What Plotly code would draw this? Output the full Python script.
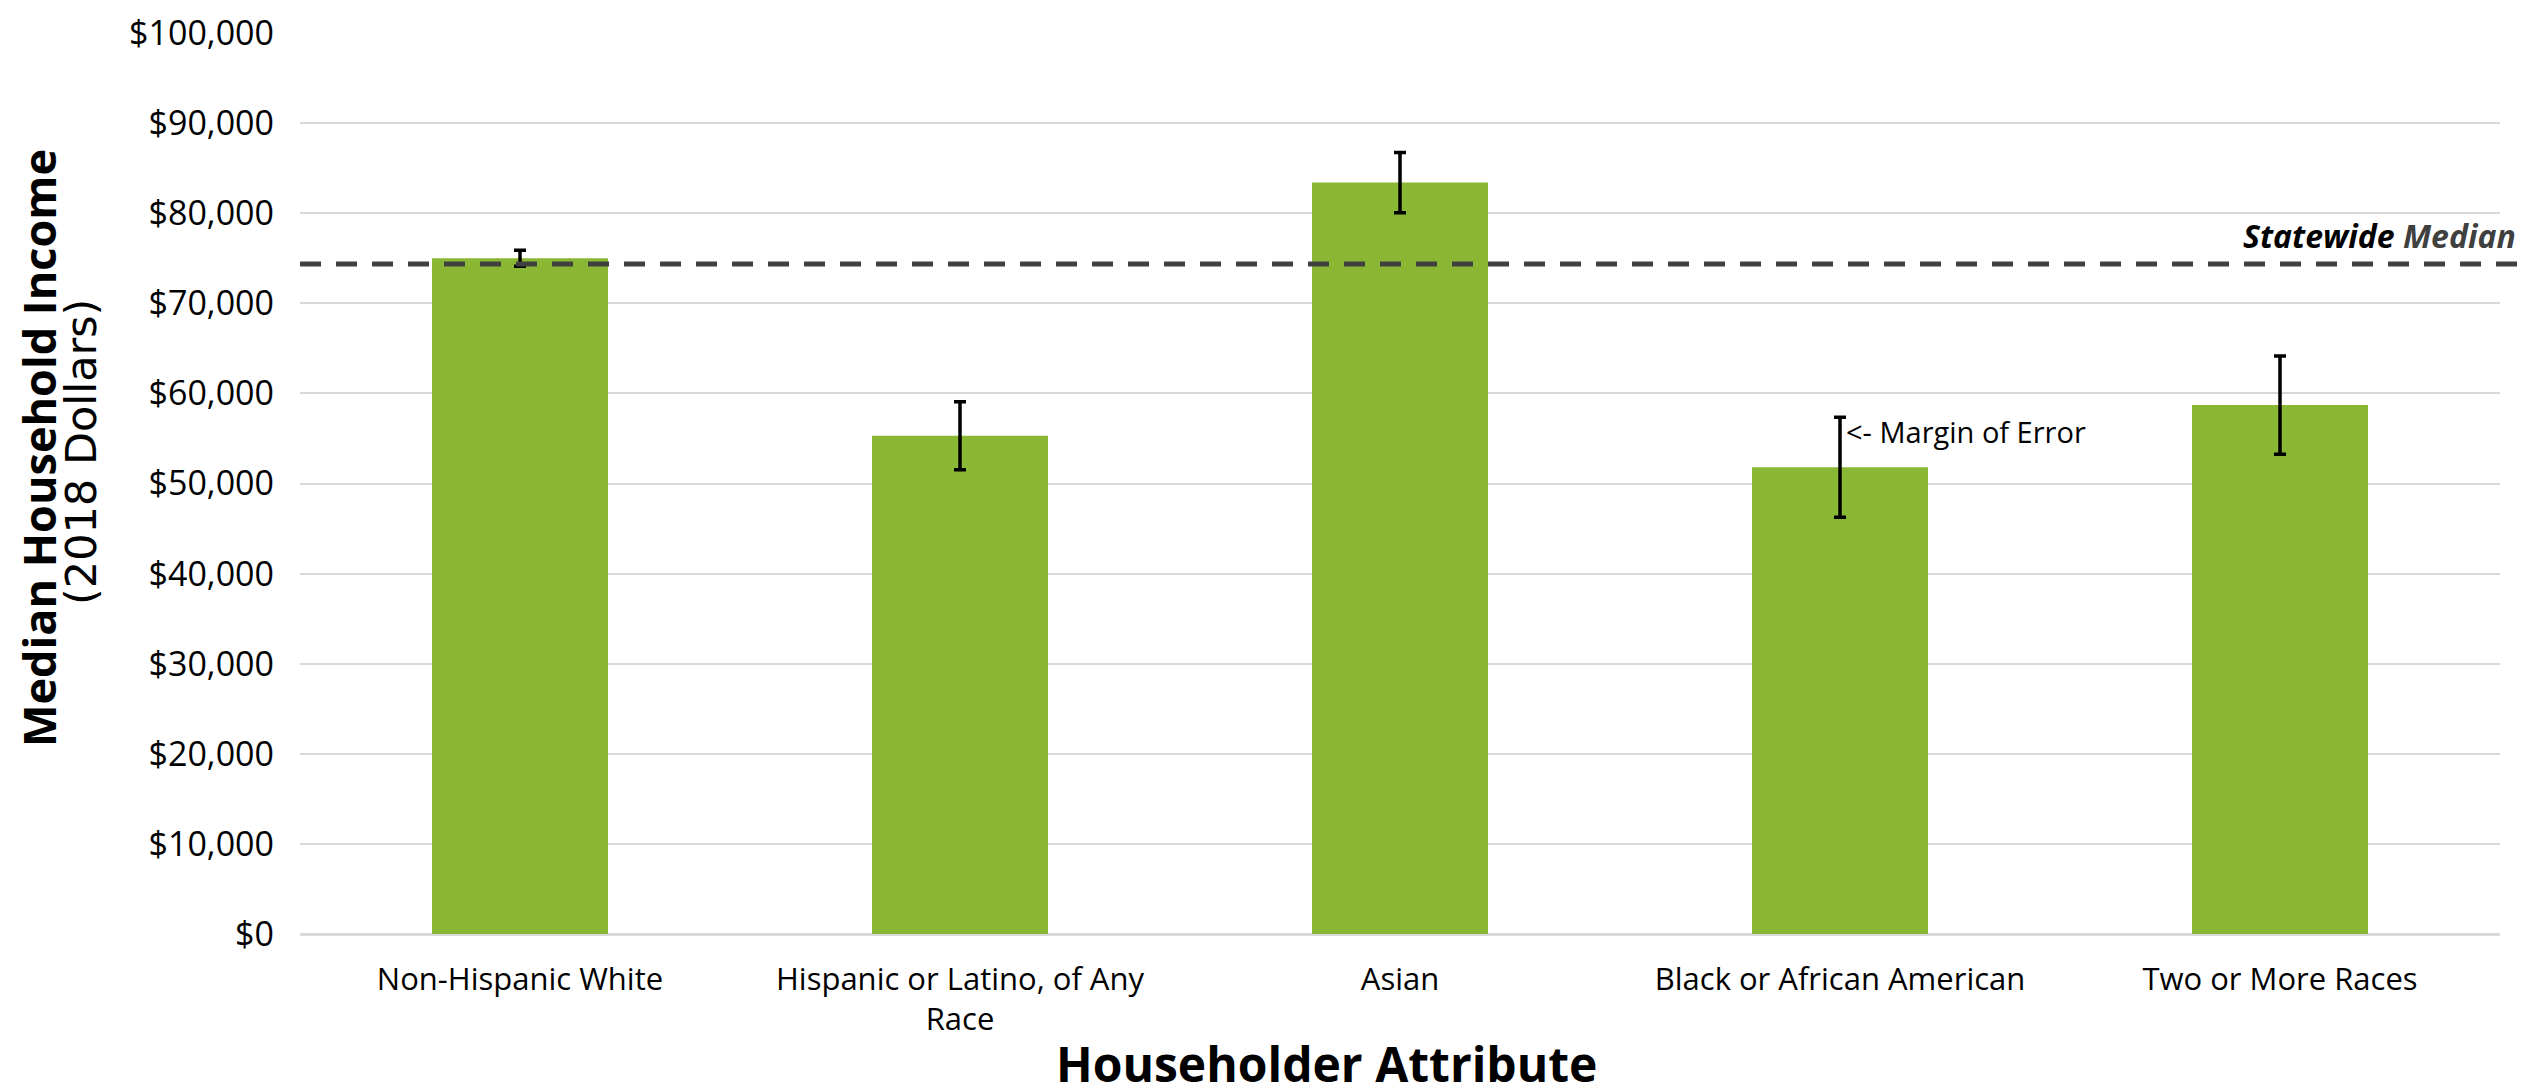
import plotly.graph_objects as go

categories = ["Non-Hispanic White", "Hispanic or Latino, of Any Race", "Asian",
              "Black or African American", "Two or More Races"]
tick_labels = ["Non-Hispanic White", "Hispanic or Latino, of Any<br>Race", "Asian",
               "Black or African American", "Two or More Races"]
median_income = [75000, 55300, 83400, 51800, 58700]
margin_of_error = [900, 3770, 3350, 5550, 5440]
statewide_median = 74350
y_ticks = list(range(0, 100001, 10000))
y_tick_labels = ["&#36;" + f"{v:,}" for v in y_ticks]

FONT = "Open Sans"
L, R, T, B = 292, 40, 25, 165
W, H = 2532, 1091
PW = W - L - R

def px_to_paper_x(px):
    return (px - L) / PW

def px_to_paper_y(py):
    return 1 - (py - T) / (H - T - B)

fig = go.Figure()
fig.add_trace(go.Bar(
    x=categories, y=median_income, width=0.4,
    marker=dict(color="#8AB734", line=dict(width=0)),
    error_y=dict(type="data", array=margin_of_error, visible=True,
                 color="#000000", thickness=3.5, width=6),
    showlegend=False,
))

fig.add_shape(type="line", xref="paper", yref="y",
              x0=0, x1=px_to_paper_x(2514), y0=statewide_median, y1=statewide_median,
              line=dict(color="#404040", width=5, dash="21px,15px"))

fig.add_annotation(xref="paper", yref="y", x=px_to_paper_x(2510), y=77500,
                   xanchor="right", yanchor="middle", showarrow=False,
                   text="<b><i>Statewide</i></b> <b><i><span style='color:#404040'>Median</span></i></b>",
                   font=dict(family=FONT, size=32, color="#000000"))

fig.add_annotation(xref="x", yref="y", x=categories[3], y=55800,
                   xanchor="left", yanchor="middle", xshift=4, showarrow=False,
                   text="&lt;- Margin of Error",
                   font=dict(family=FONT, size=29, color="#000000"))

# axis titles as annotations
fig.add_annotation(xref="paper", yref="paper", x=px_to_paper_x(30), y=px_to_paper_y(440),
                   xanchor="center", yanchor="middle", showarrow=False, textangle=-90,
                   text="<b>Median Household Income</b>",
                   font=dict(family=FONT, size=45, color="#000000"))
fig.add_annotation(xref="paper", yref="paper", x=px_to_paper_x(73), y=px_to_paper_y(444),
                   xanchor="center", yanchor="middle", showarrow=False, textangle=-90,
                   text="(2018 Dollars)",
                   font=dict(family="DejaVu Sans", size=43, color="#000000"))
fig.add_annotation(xref="paper", yref="paper", x=px_to_paper_x(1318), y=px_to_paper_y(1055),
                   xanchor="center", yanchor="middle", showarrow=False,
                   text="<b>Householder Attribute</b>",
                   font=dict(family=FONT, size=48, color="#000000"))

fig.update_xaxes(tickmode="array", tickvals=categories, ticktext=tick_labels,
                 tickfont=dict(family=FONT, size=31, color="#000000"),
                 showgrid=False, showline=False, ticks="", ticklabelstandoff=24,
                 automargin=False)
fig.update_yaxes(range=[0, 100000], tickmode="array", tickvals=y_ticks, ticktext=y_tick_labels,
                 tickfont=dict(family=FONT, size=34, color="#000000"),
                 showgrid=True, gridcolor="#D9D9D9", gridwidth=2,
                 zeroline=True, zerolinecolor="#D9D9D9", zerolinewidth=3,
                 showline=False, ticks="", ticklabelstandoff=25, automargin=False)

fig.update_layout(width=W, height=H, margin=dict(l=L, r=R, t=T, b=B, autoexpand=False),
                  paper_bgcolor="white", plot_bgcolor="white",
                  bargap=0.6, font=dict(family=FONT))

fig.write_html("out.html")
